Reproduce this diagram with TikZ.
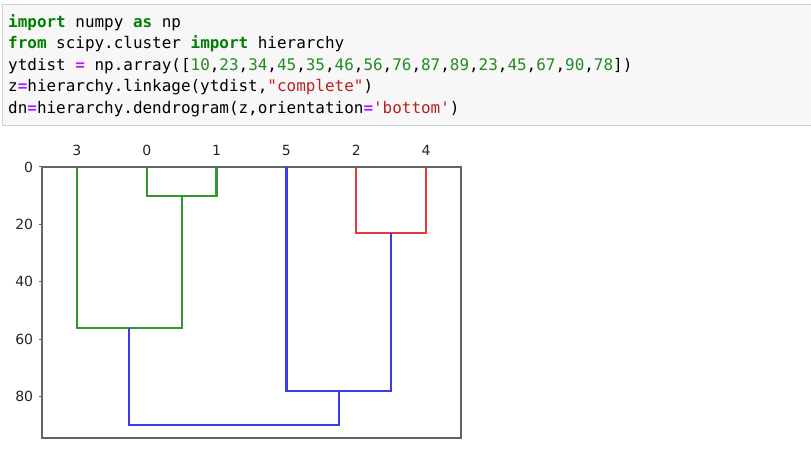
\documentclass[tikz,border=0pt]{standalone}
\usepackage{fontspec}
\setmainfont{DejaVu Sans}
\newfontfamily\codefont{DejaVu Sans Mono}
\usetikzlibrary{positioning}

\definecolor{codebg}{HTML}{F7F7F7}
\definecolor{codeframe}{HTML}{CFCFCF}
\definecolor{kwgreen}{HTML}{008000}
\definecolor{numgreen}{HTML}{228B22}
\definecolor{oppurple}{HTML}{AA22FF}
\definecolor{strred}{HTML}{BA2121}
\definecolor{linkgreen}{RGB}{50,150,50}
\definecolor{linkred}{RGB}{228,60,60}
\definecolor{linkblue}{RGB}{60,60,235}
\definecolor{spine}{RGB}{100,100,100}

\newcommand{\codekw}[1]{\textcolor{kwgreen}{\textbf{#1}}}
\newcommand{\codeop}[1]{\textcolor{oppurple}{\textbf{#1}}}
\newcommand{\codenum}[1]{\textcolor{numgreen}{#1}}
\newcommand{\codestr}[1]{\textcolor{strred}{#1}}

\begin{document}
\begin{tikzpicture}[x=1pt, y=-1pt,
		% Define styles for the code cell and the plot
		codeline/.style={anchor=base west, inner sep=0pt, font=\codefont\fontsize{15.95}{18}\selectfont},
		ticklabel/.style={inner sep=0pt, text=black!85, font=\fontsize{14}{16}\selectfont},
		link/.style={line width=2.2pt, line join=miter}
		]
		\useasboundingbox (0,0) rectangle (811,462);
		
		% --- Code cell ---
		\draw[codeframe, fill=codebg, line width=1pt] (2,4.5) rectangle (816,126);
		\node[codeline] (line1) at (8,27.5) {\codekw{import} numpy \codekw{as} np};
		\node[codeline] (line2) at (8,49) {\codekw{from} scipy.cluster \codekw{import} hierarchy};
		\node[codeline] (line3) at (8,70.5) {ytdist \codeop{=} np.array([\codenum{10},\codenum{23},\codenum{34},\codenum{45},\codenum{35},\codenum{46},\codenum{56},\codenum{76},\codenum{87},\codenum{89},\codenum{23},\codenum{45},\codenum{67},\codenum{90},\codenum{78}])};
		\node[codeline] (line4) at (8,92) {z\codeop{=}hierarchy.linkage(ytdist,\codestr{\symbol{34}complete\symbol{34}})};
		\node[codeline] (line5) at (8,113.5) {dn\codeop{=}hierarchy.dendrogram(z,orientation\codeop{=}\codestr{\symbol{39}bottom\symbol{39}})};
		
		% --- Dendrogram ---
		\begin{scope}[shift={(42,167)}, x=6.983pt, y=-2.868pt]
			\draw[spine, line width=1.1pt] (0,0) rectangle (60,94.5);
			
			% y ticks
			\foreach \v in {0,20,40,60,80} {
				\draw[spine, line width=1pt] (0,\v) -- ++(-3.5pt,0);
				\node[ticklabel, anchor=east, xshift=-8.7pt] (ytick\v) at (0,\v) {\v};
			}
			
			% leaf labels
			\foreach \leaf [count=\i from 0] in {3,0,1,5,2,4}
				\node[ticklabel, anchor=base, yshift=11pt] (leaf\leaf) at ({5+10*\i},0) {\leaf};
			
			% links
			\draw[link, linkgreen] (15,0) |- (25,10) -- (25,0);
			\draw[link, linkred] (45,0) |- (55,23) -- (55,0);
			\draw[link, linkgreen] (5,0) |- (20,56) -- (20,10);
			\draw[link, linkblue] (35,0) |- (50,78) -- (50,23);
			\draw[link, linkblue] (12.5,56) |- (42.5,90) -- (42.5,78);
		\end{scope}
	\end{tikzpicture}
\end{document}
